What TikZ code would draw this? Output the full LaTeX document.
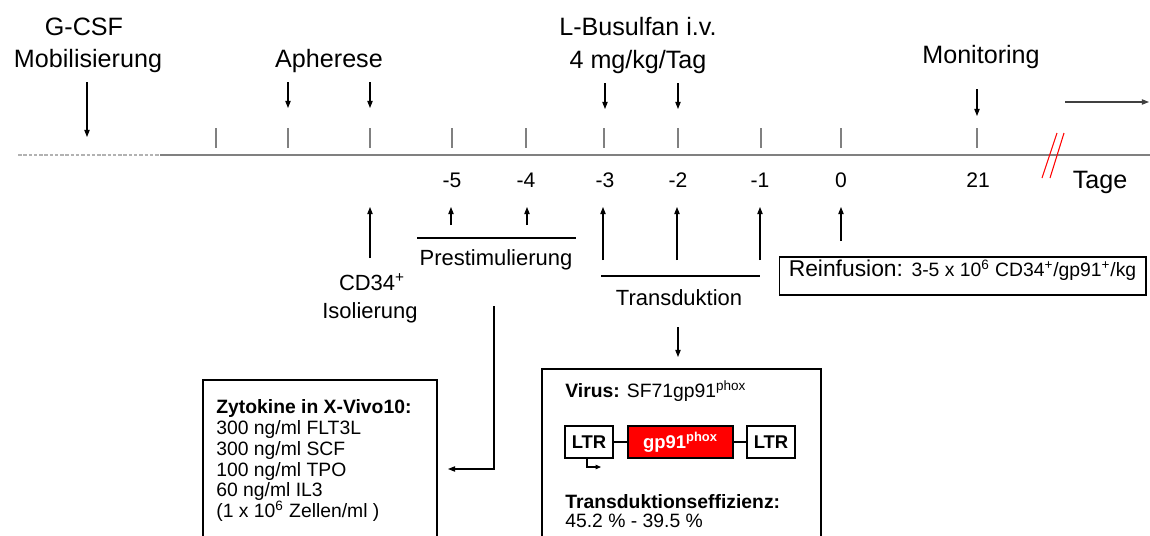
\documentclass[tikz,border=0pt]{standalone}
\usepackage{fontspec}
\setmainfont{Liberation Sans}
\usetikzlibrary{arrows.meta}

\begin{document}
\begin{tikzpicture}[x=0.02cm,y=-0.02cm,
    big/.style={font=\fontsize{14.3}{16}\selectfont,inner sep=0,anchor=base},
    mid/.style={font=\fontsize{12.5}{14}\selectfont,inner sep=0,anchor=base},
    day/.style={font=\fontsize{12}{14}\selectfont,inner sep=0,anchor=base},
    boxtext/.style={font=\fontsize{11}{11.9}\selectfont,inner sep=0,align=left},
    arr/.style={-{Triangle[length=4pt,width=3pt]},line width=0.6pt},
    daytick/.style={gray,line width=0.6pt},
    ltr/.style={draw,line width=0.8pt,minimum width=0.96cm,minimum height=0.64cm,inner sep=0,font=\bfseries\fontsize{10.5}{12}\selectfont}]
    \useasboundingbox (0,0) rectangle (1150,535);
    \clip (0,0) rectangle (1150,535);

        \node at (84,35) [big] (gcsf) {G-CSF};
        \node at (88,67) [big] (mobil) {Mobilisierung};
        \node at (329,67) [big] (apher) {Apherese};
        \node at (638,35) [big] (busul) {L-Busulfan i.v.};
        \node at (638,68) [big] (dose) {4 mg/kg/Tag};
        \node at (981,63) [big] (monit) {Monitoring};

        \coordinate (l0) at (18,155);
        \coordinate (l1) at (160,155);
        \coordinate (l2) at (1150,155);
        \draw[gray!60,line width=1pt,dash pattern=on 2pt off 1pt] (l0)--(l1);
        \draw[gray,line width=1.1pt] (l1)--(l2);
        \foreach \x in {216,288,370,452,526,604,678,761,841,977}
            \draw[daytick] (\x,128)--(\x,148);
        \draw[red,line width=0.6pt] (1042,178)--(1057,133);
        \draw[red,line width=0.6pt] (1050,178)--(1064,133);

        \node at (452,187) [day] (d5) {-5};
        \node at (526,187) [day] (d4) {-4};
        \node at (605,187) [day] (d3) {-3};
        \node at (678,187) [day] (d2) {-2};
        \node at (760,187) [day] (d1) {-1};
        \node at (841,187) [day] (d0) {0};
        \node at (978,187) [day] (d21) {21};
        \node at (1100,188) [big] (tage) {Tage};

        \coordinate (g0) at (87,82);   \coordinate (g1) at (87,137);
        \coordinate (a0) at (288,82);  \coordinate (a1) at (288,108);
        \coordinate (b0) at (370,82);  \coordinate (b1) at (370,108);
        \coordinate (u0) at (605,83);  \coordinate (u1) at (605,109);
        \coordinate (v0) at (678,83);  \coordinate (v1) at (678,109);
        \coordinate (m0) at (977,89);  \coordinate (m1) at (977,116);
        \coordinate (r0) at (1065,102); \coordinate (r1) at (1149,102);
        \draw[arr] (g0)--(g1);
        \draw[arr] (a0)--(a1);
        \draw[arr] (b0)--(b1);
        \draw[arr] (u0)--(u1);
        \draw[arr] (v0)--(v1);
        \draw[arr] (m0)--(m1);
        \draw[arr,black!75] (r0)--(r1);

        \coordinate (i0) at (370,258); \coordinate (i1) at (370,207);
        \coordinate (p0) at (451,225); \coordinate (p1) at (451,207);
        \coordinate (q0) at (527,225); \coordinate (q1) at (527,207);
        \coordinate (t0) at (603,260); \coordinate (t1) at (603,207);
        \coordinate (s0) at (677,260); \coordinate (s1) at (677,207);
        \coordinate (w0) at (760,260); \coordinate (w1) at (760,207);
        \coordinate (z0) at (841,241); \coordinate (z1) at (841,207);
        \draw[arr] (i0)--(i1);
        \draw[arr] (p0)--(p1);
        \draw[arr] (q0)--(q1);
        \draw[arr] (t0)--(t1);
        \draw[arr] (s0)--(s1);
        \draw[arr] (w0)--(w1);
        \draw[arr] (z0)--(z1);

        \coordinate (pl0) at (417,238); \coordinate (pl1) at (576,238);
        \coordinate (tl0) at (601,276); \coordinate (tl1) at (760,276);
        \draw[line width=0.6pt] (pl0)--(pl1);
        \draw[line width=0.6pt] (tl0)--(tl1);
        \node at (496,265) [mid] (prest) {Prestimulierung};
        \node at (679,305) [mid] (trans) {Transduktion};
        \node at (372,290) [mid] (cd34) {CD34\textsuperscript{+}};
        \node at (370,318) [mid] (isol) {Isolierung};

        \node at (962.5,276) [draw,line width=0.6pt,minimum width=7.34cm,minimum height=0.76cm,inner sep=0,text height=0.45em,text depth=0.45em,font=\fontsize{13}{15}\selectfont] (reinf) {Reinfusion: {\fontsize{11}{13}\selectfont 3-5 x 10\textsuperscript{6} CD34\textsuperscript{+}/gp91\textsuperscript{+}/kg}};

        \coordinate (k0) at (494,306); \coordinate (k1) at (448,469);
        \draw[arr] (k0)|-(k1);
        \coordinate (n0) at (678,327); \coordinate (n1) at (678,357);
        \draw[arr] (n0)--(n1);

        \draw[line width=0.6pt] (203,380) rectangle (437,560);
        \node at (216,399) [boxtext,anchor=north west] (zyto) {\textbf{Zytokine in X-Vivo10:}\\300 ng/ml FLT3L\\300 ng/ml SCF\\100 ng/ml TPO\\60 ng/ml IL3\\(1 x 10\textsuperscript{6} Zellen/ml )};

        \draw[line width=0.6pt] (542,369) rectangle (821,560);
        \node at (565,397) [boxtext,anchor=base west] (virus) {\textbf{Virus:} SF71gp91\textsuperscript{phox}};
        \node at (589,442) [ltr] (ltrA) {LTR};
        \node at (680.5,442) [ltr,fill=red,text=white,minimum width=2.1cm] (gene) {gp91\textsuperscript{phox}};
        \node at (771,442) [ltr] (ltrB) {LTR};
        \draw[line width=0.8pt] (ltrA)--(gene);
        \draw[line width=0.8pt] (gene)--(ltrB);
        \coordinate (o0) at (587,458); \coordinate (o1) at (601,467);
        \draw[-{Triangle[length=3pt,width=2.5pt]},line width=0.6pt] (o0)|-(o1);
        \node at (565,508) [boxtext,anchor=base west] (eff) {\textbf{Transduktionseffizienz:}};
        \node at (565,527) [boxtext,anchor=base west] (effval) {45.2 \% - 39.5 \%};

    \end{tikzpicture}
\end{document}
